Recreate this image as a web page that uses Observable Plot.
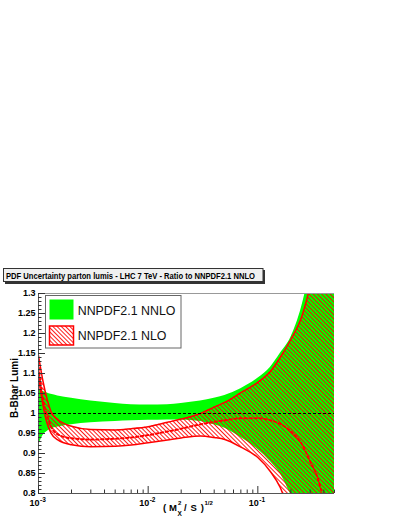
<!DOCTYPE html>
<html><head><meta charset="utf-8">
<script src="https://cdn.jsdelivr.net/npm/d3@7"></script>
<script src="https://cdn.jsdelivr.net/npm/@observablehq/plot@0.6"></script>
<style>html,body{margin:0;padding:0;background:#fff;} #chart{position:relative;width:401px;height:518px;overflow:hidden}</style>
</head><body><div id="chart"></div>
<script>
// x = (M_X^2/S)^(1/2)
const xs     = [0.001, 0.0011, 0.0012, 0.0013, 0.0015, 0.002, 0.003, 0.005, 0.007, 0.01, 0.015, 0.02, 0.03, 0.04, 0.05, 0.07, 0.1, 0.13, 0.16, 0.2, 0.25, 0.3, 0.35, 0.4, 0.5];
// NNPDF2.1 NNLO band (ratio to itself)
const nnloUp = [1.06, 1.055, 1.051, 1.048, 1.044, 1.038, 1.031, 1.025, 1.022, 1.021, 1.022, 1.025, 1.031, 1.038, 1.045, 1.062, 1.088, 1.115, 1.15, 1.19, 1.265, 1.36, 1.46, 1.58, 1.85];
const nnloLo = [0.92, 0.945, 0.955, 0.961, 0.966, 0.972, 0.977, 0.98, 0.982, 0.983, 0.984, 0.984, 0.98, 0.972, 0.963, 0.94, 0.91, 0.88, 0.85, 0.797, 0.74, 0.68, 0.62, 0.56, 0.45];
// NNPDF2.1 NLO band
const nloUp  = [1.145, 1.08, 1.035, 1.005, 0.985, 0.968, 0.96, 0.959, 0.962, 0.967, 0.978, 0.986, 1.0, 1.016, 1.028, 1.052, 1.078, 1.105, 1.14, 1.185, 1.24, 1.32, 1.41, 1.5, 1.72];
const nloC   = [1.115, 1.035, 0.995, 0.968, 0.948, 0.938, 0.935, 0.937, 0.94, 0.946, 0.955, 0.962, 0.973, 0.979, 0.983, 0.988, 0.988, 0.983, 0.974, 0.955, 0.925, 0.88, 0.84, 0.78, 0.65];
const nloLo  = [1.09, 1.02, 0.975, 0.951, 0.934, 0.922, 0.917, 0.918, 0.921, 0.927, 0.934, 0.939, 0.944, 0.94, 0.935, 0.916, 0.89, 0.855, 0.815, 0.74, 0.65, 0.55, 0.47, 0.4, 0.3];

const yMajor = [0.8, 0.85, 0.9, 0.95, 1, 1.05, 1.1, 1.15, 1.2, 1.25, 1.3];
const yMinor = d3.range(81, 130).filter(v => v % 5 !== 0).map(v => v / 100);
const xMajor = [0.001, 0.01, 0.1];
const xMinor = [0.002,0.003,0.004,0.005,0.006,0.007,0.008,0.009,0.02,0.03,0.04,0.05,0.06,0.07,0.08,0.09,0.2,0.3,0.4,0.5];

const titleText = "PDF Uncertainty parton lumis - LHC 7 TeV - Ratio to NNPDF2.1 NNLO";
const legendLabels = ["NNPDF2.1 NNLO", "NNPDF2.1 NLO"];
const yTitle = "B-Bbar Lumi";

const data = xs.map((x, i) => ({x, nnloUp: nnloUp[i], nnloLo: nnloLo[i], nloUp: nloUp[i], nloC: nloC[i], nloLo: nloLo[i]}));

const W = 401, H = 518, mL = 38, mR = 67, mT = 293, mB = 25;
const PW = W - mL - mR, PH = H - mT - mB;
const FONT = "'Liberation Sans', Arial, Helvetica, sans-serif";
const curve = "monotone-x";

const plot = Plot.plot({
  width: W, height: H,
  marginLeft: mL, marginRight: mR, marginTop: mT, marginBottom: mB,
  x: {type: "log", domain: [0.001, 0.5], axis: null},
  y: {domain: [0.8, 1.3], axis: null},
  style: {background: "white", fontFamily: FONT, overflow: "visible"},
  marks: [
    Plot.areaY(data, {x: "x", y1: "nnloLo", y2: "nnloUp", fill: "#00ff00", curve, clip: true}),
    Plot.areaY(data, {x: "x", y1: "nloLo", y2: "nloUp", fill: "url(#hatchRed)", curve, clip: true}),
    Plot.lineY(data, {x: "x", y: "nloUp", stroke: "#ff0000", strokeWidth: 1.5, curve, clip: true}),
    Plot.lineY(data, {x: "x", y: "nloLo", stroke: "#ff0000", strokeWidth: 1.5, curve, clip: true}),
    Plot.lineY(data, {x: "x", y: "nloC", stroke: "#ff0000", strokeWidth: 2, strokeDasharray: "2.5,2.5", curve, clip: true}),
    Plot.ruleY([1], {stroke: "#000", strokeWidth: 1.2, strokeDasharray: "3,2"}),
    // frame / axes
    Plot.ruleY([1.3], {stroke: "#999", strokeWidth: 1}),
    Plot.ruleX([0.001], {stroke: "#555", strokeWidth: 1}),
    Plot.ruleY([0.8], {stroke: "#555", strokeWidth: 1}),
    // ticks (inward)
    Plot.ruleY(yMajor, {stroke: "#333", strokeWidth: 1, insetRight: PW - 7}),
    Plot.ruleY(yMinor, {stroke: "#333", strokeWidth: 1, insetRight: PW - 3.5}),
    Plot.ruleX(xMajor, {stroke: "#333", strokeWidth: 1, insetTop: PH - 7}),
    Plot.ruleX(xMinor, {stroke: "#333", strokeWidth: 1, insetTop: PH - 3.5}),
    // tick labels
    Plot.text(yMajor, {x: 0.001, y: d => d, text: d => String(d), textAnchor: "end", dx: -3, fontSize: 9, fontWeight: "bold", fill: "#000"}),
    Plot.text(xMajor, {x: d => d, y: 0.8, text: () => "10", textAnchor: "end", lineAnchor: "bottom", dx: 1, dy: 12, fontSize: 9, fontWeight: "bold", fill: "#000"}),
    Plot.text(xMajor, {x: d => d, y: 0.8, text: d => String(Math.round(Math.log10(d))), textAnchor: "start", lineAnchor: "bottom", dx: 1.5, dy: 8, fontSize: 6.5, fontWeight: "bold", fill: "#000"})
  ]
});

const svg = d3.select(plot);
const defs = svg.insert("defs", ":first-child");
const pat = defs.append("pattern").attr("id", "hatchRed").attr("patternUnits", "userSpaceOnUse")
  .attr("width", 3).attr("height", 3).attr("patternTransform", "rotate(-45)");
pat.append("line").attr("x1", 1.5).attr("y1", -1).attr("x2", 1.5).attr("y2", 4).attr("stroke", "#ff0000").attr("stroke-width", 0.9);

// title box
const g = svg.append("g").attr("font-family", FONT).attr("text-anchor", "start");
g.append("rect").attr("x", 5).attr("y", 270).attr("width", 260).attr("height", 14).attr("fill", "#333");
g.append("rect").attr("x", 3.5).attr("y", 268.5).attr("width", 259.5).attr("height", 13).attr("fill", "#f0f0f0").attr("stroke", "#333").attr("stroke-width", 1);
g.append("text").attr("x", 6).attr("y", 279).attr("font-size", 8.3).attr("font-weight", "bold").attr("fill", "#000").attr("text-anchor", "start")
  .attr("textLength", 249).attr("lengthAdjust", "spacingAndGlyphs").text(titleText);

// legend
const lg = svg.append("g").attr("font-family", FONT).attr("text-anchor", "start");
lg.append("rect").attr("x", 45.5).attr("y", 295.5).attr("width", 135.5).attr("height", 52.5).attr("fill", "#fff").attr("stroke", "#666").attr("stroke-width", 1);
lg.append("rect").attr("x", 49.5).attr("y", 299.5).attr("width", 24).attr("height", 20).attr("fill", "#00ff00");
lg.append("rect").attr("x", 49.5).attr("y", 326).attr("width", 24).attr("height", 19).attr("fill", "url(#hatchRed)").attr("stroke", "#ff0000").attr("stroke-width", 1.5);
lg.append("text").attr("x", 77.7).attr("y", 315).attr("font-size", 12.4).attr("fill", "#111").attr("text-anchor", "start").text(legendLabels[0]);
lg.append("text").attr("x", 77.7).attr("y", 340).attr("font-size", 12.4).attr("fill", "#111").attr("text-anchor", "start").text(legendLabels[1]);

// axis titles
const at = svg.append("g").attr("font-family", FONT).attr("font-weight", "bold").attr("fill", "#000").attr("text-anchor", "start");
at.append("text").attr("transform", "translate(17.5,388) rotate(-90)").attr("text-anchor", "middle").attr("font-size", 10).text(yTitle);
at.append("text").attr("x", 163).attr("y", 511).attr("font-size", 9.5).attr("text-anchor", "start")
  .attr("textLength", 14).attr("lengthAdjust", "spacing").text("( M");
at.append("text").attr("x", 178).attr("y", 505).attr("font-size", 6).attr("text-anchor", "start").text("2");
at.append("text").attr("x", 177.5).attr("y", 515.5).attr("font-size", 6.5).attr("text-anchor", "start").text("X");
at.append("text").attr("x", 184).attr("y", 511).attr("font-size", 9.5).attr("text-anchor", "start")
  .attr("textLength", 20).attr("lengthAdjust", "spacing").text("/ S )");
at.append("text").attr("x", 204.5).attr("y", 505).attr("font-size", 6).attr("text-anchor", "start").text("1/2");

document.getElementById("chart").appendChild(plot);
</script>
</body></html>
